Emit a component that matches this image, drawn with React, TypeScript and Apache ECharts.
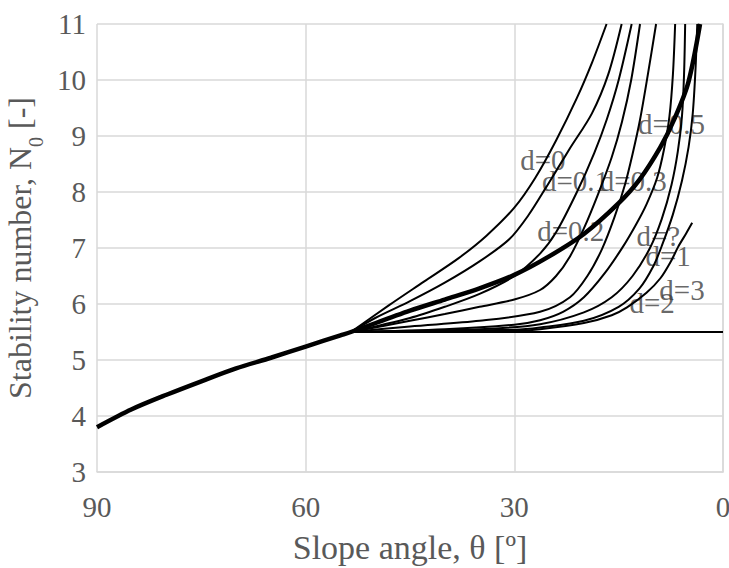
import React, { useEffect, useRef } from "react";
import * as echarts from "echarts";

// Slope angle (deg) and stability number N0 pairs for each curve
const thickCurve: number[][] = [
  [90, 3.8], [85, 4.12], [80, 4.38], [75, 4.62], [70, 4.85], [65, 5.04], [60, 5.24], [55, 5.44], [53.5, 5.5],
  [45, 5.88], [40, 6.08], [35, 6.28], [30, 6.52], [25, 6.85], [20, 7.25], [15, 7.8], [12, 8.22], [9, 8.8],
  [7, 9.3], [5, 9.95], [3.3, 11],
];
const curveD0: number[][] = [
  [53.5, 5.5], [48, 5.98], [43, 6.4], [38, 6.82], [34, 7.22], [30, 7.72], [27, 8.25], [24, 8.92],
  [21, 9.68], [18.8, 10.32], [16.74, 11],
];
const curveD01: number[][] = [
  [53.5, 5.5], [50, 5.75], [45, 6.05], [40, 6.38], [35, 6.76], [30.7, 7.16], [28, 7.58], [25.35, 8.1],
  [22, 8.78], [18.86, 9.4], [16.5, 10.1], [14.57, 11],
];
const curveD02: number[][] = [
  [53.5, 5.5], [45, 5.75], [40, 5.95], [35, 6.18], [30, 6.5], [26.3, 6.9], [24, 7.28], [21, 8.0],
  [18.5, 8.7], [16.7, 9.3], [15, 10.0], [13.13, 11],
];
const curveD03: number[][] = [
  [53.5, 5.5], [45, 5.7], [40, 5.82], [35, 5.95], [30, 6.08], [26.3, 6.25], [24, 6.5], [22, 6.85],
  [20, 7.35], [18, 7.95], [16, 8.62], [14.53, 9.25], [13.2, 10.0], [11.93, 11],
];
const curveD05: number[][] = [
  [53.5, 5.5], [45, 5.6], [35, 5.7], [26.3, 5.86], [22, 6.12], [19.5, 6.5], [17.4, 6.98], [15.6, 7.55],
  [14.1, 8.13], [13, 8.68], [11.93, 9.29], [10.8, 10.1], [9.62, 11],
];
const curveDq: number[][] = [
  [53.5, 5.5], [40, 5.55], [30, 5.63], [26.3, 5.71], [23, 5.86], [20, 6.12], [17, 6.55], [14.4, 7.02],
  [12.5, 7.42], [11, 7.78], [9.48, 8.25], [8.5, 8.75], [7.7, 9.35], [7.2, 10.1], [6.88, 11],
];
const curveD1: number[][] = [
  [53.5, 5.5], [35, 5.55], [26.3, 5.64], [20, 5.85], [16, 6.12], [13, 6.5], [10.5, 7.0], [8.8, 7.52],
  [7.4, 8.13], [6.5, 8.72], [5.9, 9.35], [5.6, 10.1], [5.44, 11],
];
const curveD2: number[][] = [
  [53.5, 5.5], [30, 5.54], [26.3, 5.58], [20, 5.7], [15, 5.95], [12, 6.28], [10, 6.68], [8.76, 7.05],
  [7.2, 7.6], [5.9, 8.2], [4.95, 8.8], [4.35, 9.4], [3.95, 10.2], [3.7, 11],
];
const curveD3: number[][] = [
  [53.5, 5.5], [30, 5.52], [26.3, 5.55], [20, 5.66], [16, 5.8], [13.8, 5.94], [11, 6.2], [9, 6.46],
  [7.5, 6.76], [6.45, 7.02], [5.3, 7.26], [4.43, 7.45],
];
const flatLine: number[][] = [[53.5, 5.5], [0, 5.5]];

const labelTexts = ["d=0", "d=0.1", "d=0.3", "d=0.5", "d=0.2", "d=?", "d=1", "d=3", "d=2"];
const labelAngles = [25.9, 21.2, 12.9, 7.4, 21.9, 9.3, 7.9, 5.9, 10.2];
const labelValues = [8.57, 8.2, 8.2, 9.22, 7.3, 7.22, 6.86, 6.25, 6.02];

const xTicks = [90, 60, 30, 0];

const FONT = "'Liberation Serif', 'Times New Roman', serif";

export default function App() {
  const ref = useRef<HTMLDivElement>(null);
  useEffect(() => {
    if (!ref.current) return;
    const chart = echarts.init(ref.current, undefined, { renderer: "svg" });
    const thin = [curveD0, curveD01, curveD02, curveD03, curveD05, curveDq, curveD1, curveD2, curveD3];
    const series: any[] = thin.map((c) => ({
      type: "line",
      data: c,
      smooth: 0.3,
      showSymbol: false,
      symbol: "none",
      lineStyle: { color: "#000", width: 2 },
      silent: true,
    }));
    series.push({
      type: "line",
      data: flatLine,
      showSymbol: false,
      symbol: "none",
      lineStyle: { color: "#000", width: 2.2 },
      silent: true,
    });
    series.push({
      type: "line",
      data: thickCurve,
      smooth: 0.3,
      showSymbol: false,
      symbol: "none",
      lineStyle: { color: "#000", width: 4.5 },
      silent: true,
    });
    series.push({
      type: "scatter",
      data: labelTexts.map((t, i) => [labelAngles[i], labelValues[i], t]),
      symbolSize: 0,
      silent: true,
      label: {
        show: true,
        position: "inside",
        formatter: (p: any) => p.value[2],
        fontFamily: FONT,
        fontSize: 29,
        color: "#404040",
      },
    });
    chart.setOption({
      animation: false,
      grid: { left: 97, right: 6, top: 24, bottom: 96, containLabel: false, outerBoundsMode: "none" },
      xAxis: {
        type: "value",
        inverse: true,
        min: 0,
        max: 90,
        interval: 30,
        name: "Slope angle, θ [º]",
        nameLocation: "middle",
        nameGap: 58,
        nameTextStyle: { fontFamily: FONT, fontSize: 34, color: "#595959" },
        axisLine: { show: true, lineStyle: { color: "#d9d9d9", width: 1.5 } },
        axisTick: { show: false },
        axisLabel: {
          fontFamily: FONT,
          fontSize: 29,
          color: "#595959",
          margin: 20,
          formatter: (v: number) => (xTicks.includes(v) ? String(v) : ""),
        },
        splitLine: { show: true, lineStyle: { color: "#d9d9d9", width: 1.5 } },
      },
      yAxis: {
        type: "value",
        min: 3,
        max: 11,
        interval: 1,
        name: "Stability number, N{sub|0} [-]",
        nameLocation: "middle",
        nameGap: 54,
        nameTextStyle: {
          fontFamily: FONT,
          fontSize: 32,
          color: "#595959",
          rich: {
            sub: { fontFamily: FONT, fontSize: 20, color: "#595959", verticalAlign: "bottom", padding: [0, 0, -10, 0] },
          },
        },
        axisLine: { show: true, lineStyle: { color: "#d9d9d9", width: 1.5 } },
        axisTick: { show: false },
        axisLabel: { fontFamily: FONT, fontSize: 29, color: "#595959", margin: 11 },
        splitLine: { show: true, lineStyle: { color: "#d9d9d9", width: 1.5 } },
      },
      series,
    });
    return () => chart.dispose();
  }, []);
  return (
    <div
      ref={ref}
      style={{ position: "absolute", left: 0, top: 0, width: 729, height: 568, background: "#fff" }}
    />
  );
}
